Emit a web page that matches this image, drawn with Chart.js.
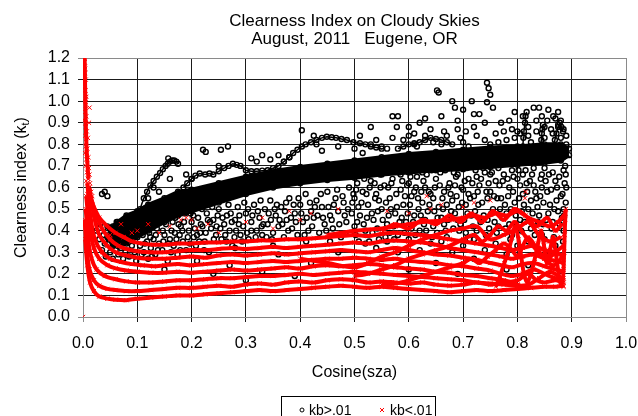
<!DOCTYPE html>
<html>
<head>
<meta charset="utf-8">
<script src="https://cdn.jsdelivr.net/npm/chart.js"></script>
<style>
  html, body { margin: 0; padding: 0; background: #fff; }
  canvas { display: block; }
</style>
</head>
<body>
<canvas id="kChart" width="638" height="416"></canvas>
<script>
// ---- text ----
const titleLines = ['Clearness Index on Cloudy Skies', 'August, 2011   Eugene, OR'];
const xTitle = 'Cosine(sza)';
const yTitle = ['Clearness index (k', 't', ')'];
const seriesNames = ['kb>.01', 'kb<.01'];

// ---- axes ----
const xTicks = [0.0, 0.1, 0.2, 0.3, 0.4, 0.5, 0.6, 0.7, 0.8, 0.9, 1.0];
const yTicks = [0.0, 0.1, 0.2, 0.3, 0.4, 0.5, 0.6, 0.7, 0.8, 0.9, 1.0, 1.1, 1.2];

// ---- kb>.01 (black circles) ----
// dense main band, lower and upper edge
const bandLower = [[0.045,0.37],[0.055,0.33],[0.064,0.33],[0.08,0.34],[0.10,0.37],[0.12,0.40],[0.15,0.44],[0.175,0.47],[0.20,0.49],[0.25,0.53],[0.30,0.57],[0.35,0.60],[0.40,0.62],[0.45,0.635],[0.50,0.645],[0.55,0.66],[0.60,0.67],[0.65,0.68],[0.70,0.685],[0.75,0.695],[0.80,0.705],[0.85,0.715],[0.88,0.725],[0.895,0.75]];
const bandUpper = [[0.045,0.40],[0.055,0.42],[0.064,0.44],[0.08,0.47],[0.10,0.49],[0.12,0.52],[0.15,0.55],[0.175,0.58],[0.20,0.59],[0.25,0.62],[0.30,0.65],[0.35,0.675],[0.40,0.695],[0.45,0.71],[0.50,0.725],[0.55,0.74],[0.60,0.755],[0.65,0.765],[0.70,0.775],[0.75,0.785],[0.80,0.79],[0.85,0.80],[0.88,0.80],[0.895,0.78]];
// thin tracks above the band
const blackTrackA = [[0.105,0.50],[0.112,0.55],[0.118,0.58],[0.124,0.61],[0.13,0.63],[0.136,0.65],[0.142,0.667],[0.147,0.685],[0.152,0.70],[0.156,0.71],[0.16,0.72],[0.164,0.725],[0.168,0.725],[0.172,0.72],[0.175,0.71]];
const blackTrackB = [[0.185,0.60],[0.192,0.62],[0.20,0.64],[0.207,0.655],[0.215,0.665],[0.225,0.66],[0.233,0.665],[0.24,0.66],[0.25,0.675],[0.26,0.69],[0.268,0.70],[0.276,0.71],[0.283,0.705],[0.29,0.70],[0.30,0.68],[0.31,0.675],[0.32,0.675],[0.33,0.678],[0.34,0.68],[0.35,0.69],[0.36,0.70],[0.37,0.72],[0.38,0.74],[0.387,0.76],[0.395,0.775],[0.403,0.79],[0.41,0.80],[0.42,0.81],[0.43,0.82],[0.44,0.83],[0.449,0.835],[0.458,0.833],[0.466,0.83],[0.476,0.825],[0.486,0.82],[0.498,0.81],[0.51,0.805],[0.52,0.80],[0.53,0.79],[0.54,0.785],[0.55,0.78]];
const blackTrackC = [[0.58,0.78],[0.59,0.79],[0.60,0.80],[0.61,0.805],[0.62,0.81],[0.63,0.82],[0.64,0.83],[0.65,0.825],[0.66,0.82],[0.67,0.81],[0.68,0.80]];
const blackSpike1 = [[0.81,0.79],[0.811,0.83],[0.812,0.86],[0.814,0.90],[0.815,0.93],[0.817,0.95]];
const blackSpike2 = [[0.843,0.79],[0.844,0.82],[0.845,0.85],[0.846,0.87],[0.847,0.89]];
const blackSpike3 = [[0.866,0.79],[0.869,0.82],[0.872,0.85],[0.875,0.88],[0.878,0.90],[0.881,0.88],[0.884,0.86]];
const blackScatter = [
  [0.025,0.40],[0.03,0.36],[0.032,0.43],[0.035,0.31],[0.038,0.38],[0.04,0.34],[0.042,0.28],[0.045,0.42],[0.048,0.36],[0.05,0.30],
  [0.052,0.39],[0.055,0.27],[0.058,0.35],[0.06,0.31],[0.062,0.44],[0.065,0.29],[0.068,0.38],[0.07,0.32],[0.074,0.27],[0.078,0.30],
  [0.08,0.42],[0.085,0.28],[0.09,0.33],[0.095,0.30],[0.098,0.26],[0.035,0.57],[0.04,0.58],[0.045,0.56],
  [0.105,0.33],[0.11,0.38],[0.112,0.30],[0.115,0.42],[0.118,0.35],[0.12,0.27],[0.122,0.39],[0.125,0.32],[0.128,0.45],[0.13,0.36],
  [0.133,0.29],[0.136,0.41],[0.14,0.34],[0.143,0.47],[0.146,0.31],[0.15,0.38],[0.153,0.43],[0.156,0.26],[0.16,0.36],[0.163,0.40],
  [0.167,0.33],[0.17,0.46],[0.174,0.29],[0.178,0.38],[0.18,0.42],[0.184,0.35],[0.188,0.48],[0.19,0.31],[0.195,0.40],[0.2,0.44],
  [0.204,0.37],[0.208,0.33],[0.212,0.46],[0.216,0.39],[0.22,0.42],[0.224,0.35],[0.228,0.48],[0.232,0.30],[0.236,0.41],[0.24,0.45],
  [0.245,0.38],[0.25,0.50],[0.255,0.36],[0.26,0.43],[0.265,0.47],[0.27,0.40],[0.275,0.33],[0.28,0.45],[0.285,0.51],[0.29,0.38],
  [0.295,0.42],[0.3,0.48],[0.305,0.36],[0.31,0.44],[0.315,0.52],[0.32,0.40],[0.325,0.46],[0.33,0.38],[0.335,0.50],[0.34,0.43],
  [0.345,0.54],[0.35,0.39],[0.355,0.47],[0.36,0.42],[0.365,0.51],[0.37,0.37],[0.375,0.45],[0.38,0.55],[0.385,0.41],[0.39,0.48],
  [0.395,0.38],[0.4,0.52],[0.405,0.44],[0.41,0.57],[0.415,0.40],[0.42,0.49],[0.425,0.46],[0.43,0.54],[0.435,0.39],[0.44,0.51],
  [0.445,0.43],[0.45,0.58],[0.455,0.47],[0.46,0.41],[0.465,0.55],[0.47,0.49],[0.475,0.37],[0.48,0.53],[0.485,0.44],[0.49,0.60],
  [0.495,0.48],[0.5,0.42],
  [0.103,0.45],[0.108,0.29],[0.117,0.47],[0.124,0.37],[0.131,0.43],[0.138,0.31],[0.147,0.40],[0.151,0.47],[0.158,0.34],[0.165,0.44],
  [0.172,0.36],[0.179,0.31],[0.186,0.44],[0.193,0.37],[0.198,0.48],[0.206,0.41],[0.214,0.35],[0.219,0.50],[0.226,0.39],[0.234,0.44],
  [0.241,0.36],[0.248,0.47],[0.253,0.41],[0.262,0.38],[0.268,0.52],[0.274,0.44],[0.282,0.40],[0.288,0.47],[0.297,0.53],[0.302,0.39],
  [0.312,0.47],[0.318,0.37],[0.327,0.54],[0.332,0.43],[0.342,0.48],[0.348,0.36],[0.357,0.52],[0.362,0.45],[0.372,0.49],[0.378,0.40],
  [0.388,0.52],[0.392,0.44],[0.402,0.48],[0.408,0.38],[0.418,0.53],[0.422,0.42],[0.432,0.47],[0.438,0.57],[0.448,0.40],[0.452,0.51],
  [0.458,0.45],[0.468,0.59],[0.472,0.43],[0.478,0.56],[0.488,0.50],[0.492,0.39],[0.498,0.57],
  [0.107,0.41],[0.114,0.34],[0.121,0.44],[0.127,0.28],[0.134,0.38],[0.141,0.44],[0.148,0.35],[0.155,0.50],[0.162,0.30],[0.169,0.39],
  [0.176,0.43],[0.183,0.40],[0.19,0.51],[0.197,0.34],[0.203,0.47],[0.21,0.38],[0.217,0.43],[0.223,0.31],[0.23,0.45],[0.238,0.51],
  [0.246,0.42],[0.257,0.46],[0.264,0.35],[0.272,0.48],[0.279,0.37],[0.287,0.43],[0.293,0.35],[0.304,0.50],[0.31,0.40],[0.322,0.49],
  [0.329,0.42],[0.338,0.37],[0.346,0.45],[0.353,0.50],[0.367,0.43],[0.374,0.53],[0.383,0.46],[0.397,0.55],[0.412,0.46],[0.427,0.51],
  [0.442,0.46],[0.462,0.52],[0.482,0.47],[0.496,0.53],[0.411,0.35],[0.455,0.35],[0.35,0.33],[0.28,0.32],
  [0.15,0.22],[0.21,0.26],[0.27,0.24],[0.33,0.21],[0.36,0.29],[0.42,0.25],[0.47,0.30],[0.39,0.19],[0.24,0.20],[0.3,0.17],
  [0.12,0.55],[0.14,0.58],[0.19,0.66],[0.2,0.64],[0.221,0.775],[0.226,0.765],[0.254,0.775],[0.267,0.79],[0.31,0.735],[0.157,0.735],
  [0.32,0.72],[0.345,0.73],[0.36,0.75],[0.37,0.72],[0.38,0.74],[0.403,0.865],[0.425,0.84],[0.43,0.80],[0.47,0.79],[0.5,0.78],
  [0.13,0.60],[0.16,0.64],[0.25,0.70],[0.33,0.75],[0.44,0.77],
  [0.5,0.55],[0.505,0.62],[0.51,0.47],[0.515,0.58],[0.52,0.40],[0.525,0.52],[0.53,0.63],[0.535,0.45],[0.54,0.57],[0.545,0.36],
  [0.55,0.50],[0.555,0.61],[0.56,0.43],[0.565,0.55],[0.57,0.64],[0.575,0.48],[0.58,0.38],[0.585,0.59],[0.59,0.52],[0.595,0.44],
  [0.6,0.62],[0.605,0.56],[0.61,0.47],[0.615,0.65],[0.62,0.40],[0.625,0.53],[0.63,0.60],[0.635,0.49],[0.64,0.57],[0.645,0.42],
  [0.65,0.64],[0.655,0.51],[0.66,0.46],[0.665,0.58],[0.67,0.37],[0.675,0.62],[0.68,0.54],[0.685,0.48],[0.69,0.66],[0.695,0.43],
  [0.7,0.59],[0.705,0.52],[0.71,0.64],[0.715,0.47],[0.72,0.56],[0.725,0.40],[0.73,0.61],[0.735,0.53],[0.74,0.67],[0.745,0.45],
  [0.75,0.58],[0.755,0.50],[0.76,0.63],[0.765,0.42],[0.77,0.55],[0.775,0.66],[0.78,0.48],[0.785,0.60],[0.79,0.38],[0.795,0.53],
  [0.8,0.64],[0.805,0.45],[0.81,0.57],[0.815,0.68],[0.82,0.50],[0.825,0.41],[0.83,0.61],[0.835,0.55],[0.84,0.47],[0.845,0.66],
  [0.85,0.36],[0.855,0.58],[0.86,0.52],[0.865,0.44],[0.87,0.63],[0.875,0.49],[0.88,0.56],[0.885,0.40],[0.89,0.60],[0.885,0.68],
  [0.87,0.33],[0.86,0.30],[0.845,0.38],[0.82,0.35],[0.8,0.33],[0.78,0.29],[0.76,0.34],[0.74,0.31],[0.72,0.36],[0.7,0.33],
  [0.68,0.30],[0.66,0.35],[0.64,0.34],[0.62,0.31],[0.6,0.36],[0.58,0.30],[0.56,0.35],[0.54,0.32],[0.52,0.34],[0.65,0.25],
  [0.72,0.27],[0.78,0.22],[0.82,0.24],[0.6,0.22],[0.55,0.27],[0.69,0.20],
  [0.505,0.44],[0.525,0.66],[0.545,0.54],[0.565,0.39],[0.585,0.66],[0.605,0.41],[0.625,0.67],[0.645,0.55],[0.665,0.43],[0.685,0.61],
  [0.705,0.39],[0.725,0.65],[0.745,0.55],[0.765,0.69],[0.785,0.43],[0.805,0.61],[0.825,0.54],[0.845,0.60],[0.865,0.67],[0.885,0.50],
  [0.79,0.68],[0.81,0.66],[0.83,0.69],[0.85,0.69],[0.75,0.66],[0.71,0.57],[0.69,0.45],[0.67,0.52],[0.63,0.45],[0.61,0.58],
  [0.502,0.38],[0.507,0.51],[0.512,0.66],[0.517,0.43],[0.522,0.57],[0.527,0.35],[0.532,0.48],[0.537,0.62],[0.542,0.41],[0.547,0.66],
  [0.552,0.45],[0.557,0.37],[0.562,0.60],[0.567,0.50],[0.572,0.42],[0.577,0.57],[0.582,0.67],[0.587,0.46],[0.592,0.39],[0.597,0.61],
  [0.602,0.52],[0.607,0.68],[0.612,0.38],[0.617,0.55],[0.622,0.47],[0.627,0.63],[0.632,0.40],[0.637,0.58],[0.642,0.68],[0.647,0.49],
  [0.652,0.39],[0.657,0.61],[0.662,0.55],[0.667,0.68],[0.672,0.45],[0.677,0.57],[0.682,0.41],[0.687,0.65],[0.692,0.51],[0.697,0.60],
  [0.702,0.45],[0.707,0.69],[0.712,0.36],[0.717,0.62],[0.722,0.49],[0.727,0.58],[0.732,0.44],[0.737,0.69],[0.742,0.38],[0.747,0.62],
  [0.752,0.48],[0.757,0.56],[0.762,0.39],[0.767,0.61],[0.772,0.46],[0.777,0.52],[0.782,0.64],[0.787,0.36],[0.792,0.58],[0.797,0.47],
  [0.802,0.68],[0.807,0.40],[0.812,0.52],[0.817,0.62],[0.822,0.45],[0.827,0.66],[0.832,0.38],[0.837,0.51],[0.842,0.56],[0.847,0.43],
  [0.852,0.63],[0.857,0.48],[0.862,0.59],[0.867,0.37],[0.872,0.54],[0.877,0.65],[0.882,0.46],[0.887,0.62],[0.889,0.53],[0.888,0.70],
  [0.503,0.59],[0.508,0.35],[0.513,0.53],[0.518,0.64],[0.523,0.46],[0.528,0.60],[0.533,0.39],[0.538,0.55],[0.543,0.49],[0.548,0.60],
  [0.553,0.67],[0.558,0.53],[0.563,0.47],[0.568,0.62],[0.573,0.36],[0.578,0.51],[0.583,0.44],[0.588,0.63],[0.593,0.56],[0.598,0.48],
  [0.603,0.65],[0.608,0.44],[0.613,0.60],[0.618,0.50],[0.623,0.58],[0.628,0.43],[0.633,0.66],[0.638,0.52],[0.643,0.37],[0.648,0.60],
  [0.653,0.46],[0.658,0.67],[0.663,0.50],[0.668,0.40],[0.673,0.60],[0.678,0.49],[0.683,0.67],[0.688,0.56],[0.693,0.40],[0.698,0.53],
  [0.703,0.63],[0.708,0.48],[0.713,0.55],[0.718,0.42],[0.723,0.68],[0.728,0.52],[0.733,0.64],[0.738,0.47],[0.743,0.58],[0.748,0.41],
  [0.753,0.67],[0.758,0.44],[0.763,0.55],[0.768,0.50],[0.773,0.63],[0.778,0.41],[0.783,0.56],[0.788,0.50],[0.793,0.65],[0.798,0.42],
  [0.803,0.55],[0.808,0.49],[0.813,0.44],[0.818,0.58],[0.823,0.63],[0.828,0.48],[0.833,0.58],[0.838,0.44],[0.843,0.64],[0.848,0.53],
  [0.853,0.45],[0.858,0.66],[0.863,0.41],[0.868,0.50],[0.873,0.60],[0.878,0.43],[0.883,0.57],[0.886,0.47],[0.889,0.66],[0.884,0.35],
  [0.51,0.84],[0.53,0.80],[0.55,0.79],[0.57,0.83],[0.578,0.88],[0.59,0.82],[0.6,0.88],[0.61,0.85],[0.62,0.90],[0.63,0.84],
  [0.64,0.87],[0.652,1.05],[0.655,1.04],[0.66,0.93],[0.67,0.84],[0.68,1.0],[0.685,0.97],[0.69,0.87],[0.70,0.96],[0.705,0.86],
  [0.716,1.0],[0.72,0.94],[0.73,0.94],[0.74,0.90],[0.744,1.085],[0.747,1.06],[0.75,1.03],[0.744,0.995],[0.755,0.97],[0.76,0.85],
  [0.77,0.90],[0.78,0.82],[0.79,0.87],[0.81,0.93],[0.805,0.85],[0.82,0.84],[0.83,0.97],[0.835,0.91],[0.84,0.97],[0.845,0.93],
  [0.85,0.88],[0.857,0.96],[0.866,0.93],[0.865,0.85],[0.87,0.92],[0.875,0.89],[0.88,0.83],[0.885,0.87],[0.89,0.84],[0.53,0.88],
  [0.57,0.93],[0.7,0.81],[0.74,0.82],[0.66,0.80],[0.58,0.93],[0.63,0.92],[0.72,0.88],[0.8,0.86],[0.69,0.91],[0.61,0.80],
  [0.515,0.76],[0.54,0.82],[0.56,0.78],[0.6,0.84],[0.615,0.79],[0.645,0.81],[0.665,0.86],[0.695,0.83],[0.71,0.79],[0.725,0.84],
  [0.75,0.80],[0.765,0.81],[0.775,0.86],[0.785,0.91],[0.795,0.83],[0.82,0.88],[0.825,0.81],[0.85,0.83],[0.855,0.91],[0.862,0.87],
  [0.875,0.95],[0.88,0.91],[0.89,0.80],[0.795,0.95],[0.835,0.86]
];

// ---- kb<.01 (red crosses) ----
const redTrack1 = [[0.004,0.36],[0.008,0.24],[0.013,0.16],[0.02,0.12],[0.03,0.095],[0.045,0.085],[0.06,0.08],[0.08,0.078],[0.1,0.085],[0.125,0.09],[0.15,0.095],[0.175,0.10],[0.2,0.10],[0.225,0.105],[0.25,0.11],[0.275,0.115],[0.3,0.12],[0.325,0.125],[0.35,0.12],[0.375,0.125],[0.4,0.13],[0.425,0.135],[0.45,0.14],[0.475,0.145],[0.5,0.14],[0.525,0.135],[0.55,0.14],[0.575,0.135],[0.6,0.13],[0.625,0.125],[0.65,0.12],[0.675,0.115],[0.7,0.12],[0.725,0.125],[0.75,0.12],[0.775,0.125],[0.8,0.13],[0.825,0.135],[0.85,0.14],[0.87,0.14],[0.885,0.145]];
const redTrack2 = [[0.003,0.45],[0.007,0.31],[0.012,0.22],[0.02,0.17],[0.03,0.145],[0.045,0.13],[0.06,0.125],[0.08,0.12],[0.1,0.12],[0.125,0.125],[0.15,0.13],[0.175,0.135],[0.2,0.135],[0.225,0.14],[0.25,0.145],[0.275,0.14],[0.3,0.15],[0.325,0.155],[0.35,0.15],[0.375,0.16],[0.4,0.165],[0.425,0.16],[0.45,0.17],[0.475,0.175],[0.5,0.17],[0.525,0.16],[0.55,0.165],[0.575,0.16],[0.6,0.155],[0.625,0.16],[0.65,0.15],[0.675,0.145],[0.7,0.15],[0.725,0.16],[0.75,0.15],[0.775,0.16],[0.8,0.17],[0.82,0.2],[0.835,0.17],[0.85,0.16],[0.87,0.17],[0.885,0.16]];
const redTrack3 = [[0.005,0.50],[0.01,0.35],[0.016,0.27],[0.025,0.22],[0.04,0.19],[0.06,0.175],[0.08,0.165],[0.1,0.16],[0.125,0.16],[0.15,0.165],[0.175,0.17],[0.2,0.17],[0.225,0.175],[0.25,0.18],[0.275,0.18],[0.3,0.185],[0.325,0.19],[0.35,0.19],[0.375,0.195],[0.4,0.20],[0.425,0.195],[0.45,0.20],[0.475,0.205],[0.5,0.21],[0.525,0.205],[0.55,0.20],[0.575,0.195],[0.6,0.19],[0.625,0.185],[0.65,0.18],[0.675,0.175],[0.7,0.17],[0.725,0.16],[0.75,0.155],[0.775,0.15],[0.8,0.145],[0.82,0.15],[0.84,0.18],[0.86,0.21],[0.875,0.19],[0.885,0.17]];
const redTrack4 = [[0.006,0.56],[0.012,0.41],[0.02,0.32],[0.03,0.27],[0.045,0.24],[0.06,0.225],[0.08,0.215],[0.1,0.21],[0.125,0.205],[0.15,0.205],[0.175,0.21],[0.2,0.205],[0.225,0.21],[0.25,0.215],[0.275,0.22],[0.3,0.215],[0.325,0.22],[0.35,0.225],[0.375,0.23],[0.4,0.225],[0.425,0.235],[0.45,0.24],[0.475,0.235],[0.5,0.24],[0.525,0.245],[0.55,0.24],[0.575,0.23],[0.6,0.225],[0.625,0.22],[0.65,0.21],[0.675,0.205],[0.7,0.195],[0.725,0.19],[0.75,0.18],[0.775,0.17],[0.79,0.16],[0.8,0.15],[0.81,0.14],[0.825,0.135]];
const redTrack5 = [[0.008,0.62],[0.014,0.46],[0.022,0.36],[0.035,0.30],[0.05,0.27],[0.07,0.255],[0.09,0.245],[0.11,0.24],[0.13,0.235],[0.15,0.24],[0.175,0.245],[0.2,0.24],[0.225,0.245],[0.25,0.25],[0.275,0.255],[0.3,0.25],[0.325,0.255],[0.35,0.26],[0.375,0.255],[0.4,0.26],[0.425,0.265],[0.45,0.27],[0.475,0.27],[0.5,0.275],[0.525,0.27],[0.55,0.265],[0.575,0.27],[0.6,0.26],[0.625,0.255],[0.65,0.25],[0.675,0.24],[0.7,0.235],[0.725,0.225],[0.75,0.215],[0.77,0.2],[0.79,0.19],[0.81,0.2],[0.83,0.22],[0.85,0.2],[0.87,0.18],[0.885,0.18]];
const redTrack6 = [[0.012,0.60],[0.02,0.47],[0.03,0.38],[0.045,0.33],[0.06,0.30],[0.08,0.285],[0.1,0.275],[0.125,0.27],[0.15,0.27],[0.175,0.275],[0.2,0.28],[0.225,0.275],[0.25,0.285],[0.275,0.29],[0.3,0.285],[0.325,0.29],[0.35,0.295],[0.375,0.29],[0.4,0.295],[0.425,0.30],[0.45,0.305],[0.475,0.31],[0.5,0.305],[0.525,0.30],[0.55,0.31],[0.575,0.32],[0.6,0.31],[0.625,0.30],[0.65,0.29],[0.675,0.285],[0.7,0.275],[0.725,0.265],[0.75,0.25],[0.77,0.24],[0.79,0.23],[0.81,0.245],[0.83,0.25],[0.85,0.235],[0.87,0.22],[0.885,0.21]];
const redTrack7 = [[0.015,0.55],[0.025,0.47],[0.035,0.41],[0.05,0.36],[0.065,0.33],[0.08,0.315],[0.1,0.305],[0.125,0.30],[0.15,0.30],[0.175,0.305],[0.2,0.31],[0.225,0.31],[0.25,0.315],[0.275,0.32],[0.3,0.315],[0.325,0.32],[0.35,0.325],[0.375,0.32],[0.4,0.325],[0.425,0.33],[0.45,0.335],[0.475,0.34],[0.5,0.345],[0.525,0.34],[0.55,0.35],[0.575,0.355],[0.6,0.35],[0.625,0.345],[0.65,0.335],[0.675,0.32],[0.7,0.31],[0.725,0.30],[0.75,0.29],[0.77,0.28],[0.79,0.27],[0.81,0.28],[0.83,0.29],[0.85,0.27],[0.87,0.26],[0.885,0.25]];
const redTrack8 = [[0.018,0.52],[0.03,0.46],[0.045,0.42],[0.06,0.39],[0.075,0.37],[0.09,0.35],[0.11,0.34],[0.13,0.335],[0.15,0.335],[0.175,0.34],[0.2,0.34],[0.225,0.345],[0.25,0.345],[0.275,0.35],[0.3,0.35],[0.325,0.355],[0.35,0.355],[0.375,0.36],[0.4,0.36],[0.425,0.365],[0.45,0.37],[0.475,0.375],[0.5,0.38],[0.525,0.375],[0.55,0.385],[0.575,0.39],[0.6,0.385],[0.625,0.38],[0.65,0.37],[0.675,0.36],[0.7,0.35],[0.725,0.34],[0.75,0.33],[0.77,0.32],[0.79,0.31],[0.81,0.32],[0.83,0.33],[0.85,0.31],[0.87,0.30],[0.885,0.28]];
const redTrack9 = [[0.45,0.38],[0.475,0.39],[0.5,0.40],[0.525,0.405],[0.55,0.41],[0.575,0.42],[0.6,0.43],[0.625,0.44],[0.65,0.445],[0.675,0.45],[0.7,0.46],[0.72,0.47],[0.74,0.46],[0.76,0.48],[0.78,0.47],[0.8,0.49],[0.82,0.46],[0.84,0.44],[0.86,0.42],[0.875,0.44],[0.888,0.48]];
const redTrack10 = [[0.5,0.19],[0.525,0.20],[0.55,0.22],[0.575,0.24],[0.6,0.27],[0.625,0.29],[0.65,0.31],[0.675,0.33],[0.7,0.36],[0.72,0.38],[0.735,0.35],[0.75,0.38],[0.765,0.42],[0.78,0.40],[0.795,0.44],[0.81,0.39],[0.825,0.34],[0.84,0.30],[0.855,0.27],[0.87,0.30],[0.885,0.33]];
const redTrack11 = [[0.55,0.15],[0.575,0.155],[0.6,0.17],[0.625,0.19],[0.65,0.21],[0.675,0.23],[0.7,0.25],[0.715,0.27],[0.73,0.25],[0.745,0.28],[0.76,0.31],[0.775,0.34],[0.79,0.31],[0.8,0.28],[0.81,0.33],[0.82,0.37],[0.835,0.32],[0.85,0.27],[0.865,0.24],[0.877,0.26],[0.886,0.30]];
const redTrack12 = [[0.76,0.14],[0.768,0.19],[0.776,0.25],[0.784,0.31],[0.79,0.37],[0.796,0.42],[0.802,0.36],[0.807,0.28],[0.812,0.2],[0.818,0.16],[0.825,0.2],[0.832,0.27],[0.838,0.34],[0.844,0.40],[0.849,0.33],[0.854,0.25],[0.86,0.31],[0.866,0.37],[0.871,0.29],[0.876,0.2],[0.88,0.15],[0.885,0.14]];
const redTrack13 = [[0.883,0.15],[0.885,0.22],[0.886,0.3],[0.887,0.38],[0.888,0.45],[0.889,0.50]];
const redTrack14 = [[0.55,0.40],[0.575,0.43],[0.6,0.41],[0.625,0.45],[0.65,0.43],[0.675,0.47],[0.695,0.44],[0.715,0.48],[0.735,0.44],[0.755,0.49],[0.775,0.45],[0.795,0.5],[0.815,0.47],[0.835,0.42],[0.855,0.46],[0.87,0.40],[0.882,0.43]];
const redTrack15 = [[0.4,0.27],[0.45,0.25],[0.5,0.23],[0.525,0.25],[0.55,0.28],[0.575,0.30],[0.6,0.33],[0.625,0.36],[0.65,0.38],[0.675,0.40],[0.7,0.41],[0.725,0.42],[0.75,0.36],[0.775,0.38],[0.8,0.41],[0.82,0.44],[0.84,0.38],[0.86,0.35],[0.88,0.37]];
const redSpike = [[0.003,1.2],[0.004,1.05],[0.005,0.9],[0.007,0.76],[0.01,0.64]];
const redScatter = [
  [0.002,1.2],[0.003,1.18],[0.004,1.15],[0.002,1.12],[0.005,1.10],[0.003,1.08],[0.004,1.05],[0.006,1.02],[0.003,1.0],[0.005,0.98],
  [0.012,0.97],[0.004,0.95],[0.006,0.93],[0.003,0.91],[0.011,0.90],[0.005,0.88],[0.007,0.86],[0.004,0.84],[0.009,0.83],[0.006,0.81],
  [0.005,0.79],[0.008,0.78],[0.004,0.76],[0.01,0.74],[0.006,0.73],[0.008,0.71],[0.005,0.70],[0.011,0.69],[0.007,0.67],[0.012,0.66],
  [0.009,0.64],[0.006,0.63],[0.013,0.62],[0.01,0.60],[0.015,0.58],[0.008,0.57],[0.017,0.56],[0.012,0.54],[0.003,1.16],[0.004,1.13],
  [0.002,1.06],[0.005,1.01],[0.0,0.0],
  [0.1,0.40],[0.12,0.43],[0.14,0.39],[0.16,0.42],[0.18,0.45],[0.19,0.46],[0.2,0.45],[0.21,0.41],[0.23,0.43],[0.3,0.44],
  [0.33,0.46],[0.38,0.49],[0.42,0.48],[0.4,0.45],[0.47,0.50],[0.56,0.49],[0.6,0.48],[0.64,0.50],[0.633,0.56],[0.66,0.52],
  [0.7,0.51],[0.72,0.53],[0.75,0.54],[0.814,0.55],[0.815,0.58],[0.68,0.45],[0.25,0.39],[0.35,0.41],[0.05,0.38],[0.07,0.43],
  [0.09,0.39]
];

const blackTracks = [blackTrackA, blackTrackB, blackTrackC, blackSpike1, blackSpike2, blackSpike3];
const redTracks = [redTrack1, redTrack2, redTrack3, redTrack4, redTrack5, redTrack6, redTrack7, redTrack8,
  redTrack9, redTrack10, redTrack11, redTrack12, redTrack13, redTrack14, redTrack15, redSpike];

const toXY = pts => pts.map(p => ({ x: p[0], y: p[1] }));
const FONT = "'Liberation Sans', Arial, sans-serif";

const blackPoint = { pointStyle: 'circle', pointRadius: 2.5, pointBorderWidth: 1.4, pointBorderColor: '#000', pointBackgroundColor: 'rgba(0,0,0,0)', order: 2 };
const redPoint = { pointStyle: 'crossRot', pointRadius: 3, pointBorderWidth: 1, pointBorderColor: '#ff0000', pointBackgroundColor: '#ff0000', order: 1 };

const datasets = [];
datasets.push(Object.assign({ label: seriesNames[0], data: toXY(bandLower), showLine: true, borderColor: '#000', borderWidth: 4 }, blackPoint));
datasets.push(Object.assign({ label: seriesNames[0], data: toXY(bandUpper), showLine: true, borderColor: '#000', borderWidth: 4, fill: '-1', backgroundColor: '#000' }, blackPoint));
blackTracks.forEach(t => datasets.push(Object.assign({ label: seriesNames[0], data: toXY(t), showLine: true, borderColor: '#000', borderWidth: 1.5 }, blackPoint)));
datasets.push(Object.assign({ label: seriesNames[0], data: toXY(blackScatter), showLine: false }, blackPoint));
redTracks.forEach(t => datasets.push(Object.assign({ label: seriesNames[1], data: toXY(t), showLine: true, borderColor: '#ff0000', borderWidth: 4, tension: 0.3 }, redPoint)));
datasets.push(Object.assign({ label: seriesNames[1], data: toXY(redScatter), showLine: false }, redPoint));

// titles, y title with subscript, boxed legend
const chartText = {
  id: 'chartText',
  afterDraw(chart) {
    const ctx = chart.ctx;
    const area = chart.chartArea;
    const cx = (area.left + area.right) / 2;
    ctx.save();
    ctx.fillStyle = '#000';
    ctx.textBaseline = 'alphabetic';
    ctx.textAlign = 'center';
    ctx.font = '17px ' + FONT;
    ctx.fillText(titleLines[0], cx, 26);
    ctx.fillText(titleLines[1], cx, 44);
    ctx.font = '16px ' + FONT;
    ctx.fillText(xTitle, cx, 377);

    // y axis title, rotated
    ctx.save();
    ctx.translate(26, (area.top + area.bottom) / 2);
    ctx.rotate(-Math.PI / 2);
    ctx.textAlign = 'left';
    ctx.font = '16px ' + FONT;
    const w0 = ctx.measureText(yTitle[0]).width;
    ctx.font = '11px ' + FONT;
    const w1 = ctx.measureText(yTitle[1]).width;
    ctx.font = '16px ' + FONT;
    const w2 = ctx.measureText(yTitle[2]).width;
    let x0 = -(w0 + w1 + w2) / 2;
    ctx.fillText(yTitle[0], x0, 0);
    ctx.font = '11px ' + FONT;
    ctx.fillText(yTitle[1], x0 + w0, 3);
    ctx.font = '16px ' + FONT;
    ctx.fillText(yTitle[2], x0 + w0 + w1, 0);
    ctx.restore();

    // legend
    ctx.strokeStyle = '#000';
    ctx.lineWidth = 1;
    ctx.strokeRect(281.5, 396.5, 154, 24);
    ctx.beginPath();
    ctx.arc(302, 410, 2, 0, Math.PI * 2);
    ctx.stroke();
    ctx.strokeStyle = '#ff0000';
    ctx.beginPath();
    ctx.moveTo(380, 408); ctx.lineTo(384, 412);
    ctx.moveTo(384, 408); ctx.lineTo(380, 412);
    ctx.stroke();
    ctx.textAlign = 'left';
    ctx.font = '14px ' + FONT;
    ctx.fillText(seriesNames[0], 309, 415);
    ctx.fillText(seriesNames[1], 390, 415);
    ctx.restore();
  }
};

const edgeColor = '#8a8a8a';
const gridColor = '#1a1a1a';

new Chart(document.getElementById('kChart'), {
  type: 'scatter',
  data: { datasets: datasets },
  options: {
    responsive: false,
    animation: false,
    devicePixelRatio: 1,
    layout: { padding: { top: 58, right: 0, left: 0, bottom: 0 } },
    plugins: {
      legend: { display: false },
      tooltip: { enabled: false },
      title: { display: false }
    },
    scales: {
      x: {
        type: 'linear',
        min: xTicks[0],
        max: xTicks[xTicks.length - 1],
        afterFit: s => { s.height = 99; s.paddingLeft = 0; s.paddingRight = 12; },
        afterBuildTicks: s => { s.ticks = xTicks.map(v => ({ value: v })); },
        ticks: { callback: v => Number(v).toFixed(1), color: '#000', font: { size: 16, family: FONT }, padding: 12, maxRotation: 0, autoSkip: false },
        grid: {
          color: c => (c.tick && (c.tick.value === xTicks[0] || c.tick.value === xTicks[xTicks.length - 1])) ? edgeColor : gridColor,
          tickLength: 5
        },
        border: { color: edgeColor }
      },
      y: {
        min: yTicks[0],
        max: yTicks[yTicks.length - 1],
        afterFit: s => { s.width = 83; },
        afterBuildTicks: s => { s.ticks = yTicks.map(v => ({ value: v })); },
        ticks: { callback: v => Number(v).toFixed(1), color: '#000', font: { size: 16, family: FONT }, padding: 8, autoSkip: false },
        grid: {
          color: c => (c.tick && (c.tick.value === yTicks[0] || c.tick.value === yTicks[yTicks.length - 1])) ? edgeColor : gridColor,
          tickLength: 5
        },
        border: { color: edgeColor }
      }
    }
  },
  plugins: [chartText]
});
</script>
</body>
</html>
